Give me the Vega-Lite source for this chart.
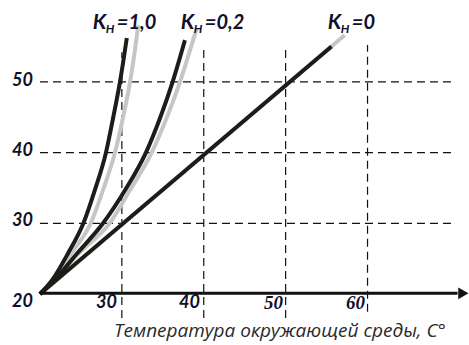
{
  "$schema": "https://vega.github.io/schema/vega-lite/v6.json",
  "width": 469,
  "height": 345,
  "padding": 0,
  "autosize": {"type": "none"},
  "background": "white",
  "config": {"view": {"stroke": null}},
  "datasets": {
    "curves": [
      {"curve": "1,0", "kind": "black", "x": 20, "y": 20},
      {"curve": "1,0", "kind": "black", "x": 21.5, "y": 22},
      {"curve": "1,0", "kind": "black", "x": 23.4, "y": 25.7},
      {"curve": "1,0", "kind": "black", "x": 25.3, "y": 30},
      {"curve": "1,0", "kind": "black", "x": 26.7, "y": 34.7},
      {"curve": "1,0", "kind": "black", "x": 28.06, "y": 40},
      {"curve": "1,0", "kind": "black", "x": 28.95, "y": 45},
      {"curve": "1,0", "kind": "black", "x": 29.77, "y": 50},
      {"curve": "1,0", "kind": "black", "x": 30.6, "y": 56.2},
      {"curve": "1,0", "kind": "grey", "x": 20, "y": 20},
      {"curve": "1,0", "kind": "grey", "x": 21.6, "y": 22},
      {"curve": "1,0", "kind": "grey", "x": 23.8, "y": 25.7},
      {"curve": "1,0", "kind": "grey", "x": 26.2, "y": 30},
      {"curve": "1,0", "kind": "grey", "x": 27.7, "y": 34.7},
      {"curve": "1,0", "kind": "grey", "x": 29.16, "y": 40},
      {"curve": "1,0", "kind": "grey", "x": 30.15, "y": 45},
      {"curve": "1,0", "kind": "grey", "x": 31.0, "y": 50},
      {"curve": "1,0", "kind": "grey", "x": 31.6, "y": 54.5},
      {"curve": "1,0", "kind": "grey", "x": 32.0, "y": 58.0},
      {"curve": "0,2", "kind": "black", "x": 20, "y": 20},
      {"curve": "0,2", "kind": "black", "x": 21.8, "y": 22},
      {"curve": "0,2", "kind": "black", "x": 24.5, "y": 25.7},
      {"curve": "0,2", "kind": "black", "x": 27.7, "y": 30},
      {"curve": "0,2", "kind": "black", "x": 30.4, "y": 34.7},
      {"curve": "0,2", "kind": "black", "x": 32.94, "y": 40},
      {"curve": "0,2", "kind": "black", "x": 34.7, "y": 45},
      {"curve": "0,2", "kind": "black", "x": 36.2, "y": 50},
      {"curve": "0,2", "kind": "black", "x": 37.7, "y": 55.9},
      {"curve": "0,2", "kind": "grey", "x": 20, "y": 20},
      {"curve": "0,2", "kind": "grey", "x": 21.8, "y": 22},
      {"curve": "0,2", "kind": "grey", "x": 24.7, "y": 25.7},
      {"curve": "0,2", "kind": "grey", "x": 28.5, "y": 30},
      {"curve": "0,2", "kind": "grey", "x": 31.0, "y": 34.7},
      {"curve": "0,2", "kind": "grey", "x": 33.64, "y": 40},
      {"curve": "0,2", "kind": "grey", "x": 35.5, "y": 45},
      {"curve": "0,2", "kind": "grey", "x": 37.1, "y": 50},
      {"curve": "0,2", "kind": "grey", "x": 38.7, "y": 55.9},
      {"curve": "0,2", "kind": "grey", "x": 39.15, "y": 57.6},
      {"curve": "0", "kind": "black", "x": 20, "y": 20},
      {"curve": "0", "kind": "black", "x": 55.6, "y": 55.0},
      {"curve": "0", "kind": "grey", "x": 20, "y": 20},
      {"curve": "0", "kind": "grey", "x": 57.2, "y": 56.6}
    ],
    "hgrid": [
      {"y": 30, "x": 20, "x2": 70.4},
      {"y": 40, "x": 20, "x2": 70.4},
      {"y": 50, "x": 20, "x2": 70.4}
    ],
    "vgrid": [
      {"x": 30, "y": 16.6, "y2": 54.2},
      {"x": 40, "y": 16.6, "y2": 55.2},
      {"x": 50, "y": 16.6, "y2": 54.5},
      {"x": 60, "y": 17.5, "y2": 55.2}
    ],
    "axisline": [{"x": 20, "x2": 71.0, "y": 20.1}],
    "arrow": [{"x": 71.7, "y": 20.1}],
    "klabels": [
      {"x": 26.45, "y": 57.48, "eq": "=1,0"},
      {"x": 37.2, "y": 57.48, "eq": "=0,2"},
      {"x": 55.15, "y": 57.48, "eq": "=0"}
    ],
    "ticklabels": [
      {"g": "sans", "x": 19.15, "y": 50.19, "t": "50"},
      {"g": "sans", "x": 19.15, "y": 40.22, "t": "40"},
      {"g": "sans", "x": 19.15, "y": 30.32, "t": "30"},
      {"g": "sans", "x": 19.15, "y": 18.86, "t": "20"},
      {"g": "sans", "x": 29.4, "y": 18.79, "t": "30"},
      {"g": "sans", "x": 39.54, "y": 18.79, "t": "40"},
      {"g": "serif", "x": 49.67, "y": 18.79, "t": "50"},
      {"g": "serif", "x": 59.69, "y": 18.79, "t": "60"}
    ],
    "title": [{"x": 49.3, "y": 13.91, "t": "Температура окружающей среды, С°"}]
  },
  "layer": [
    {
      "data": {"name": "hgrid"},
      "mark": {"type": "rule", "color": "#111111", "strokeWidth": 1.2, "strokeDash": [8, 5]},
      "encoding": {
        "x": {"field": "x", "type": "quantitative", "scale": {"domain": [15.12, 72.39], "nice": false, "zero": false}, "axis": null},
        "x2": {"field": "x2"},
        "y": {"field": "y", "type": "quantitative", "scale": {"domain": [12.79, 61.58], "nice": false, "zero": false}, "axis": null}
      }
    },
    {
      "data": {"name": "vgrid"},
      "mark": {"type": "rule", "color": "#111111", "strokeWidth": 1.2, "strokeDash": [8, 5]},
      "encoding": {
        "x": {"field": "x", "type": "quantitative", "scale": {"domain": [15.12, 72.39], "nice": false, "zero": false}, "axis": null},
        "y": {"field": "y", "type": "quantitative", "scale": {"domain": [12.79, 61.58], "nice": false, "zero": false}, "axis": null},
        "y2": {"field": "y2"}
      }
    },
    {
      "data": {"name": "curves"},
      "transform": [{"filter": "datum.kind === 'grey'"}],
      "mark": {"type": "line", "color": "#c6c6c6", "strokeWidth": 4, "interpolate": "monotone"},
      "encoding": {
        "x": {"field": "x", "type": "quantitative", "scale": {"domain": [15.12, 72.39], "nice": false, "zero": false}, "axis": null},
        "y": {"field": "y", "type": "quantitative", "scale": {"domain": [12.79, 61.58], "nice": false, "zero": false}, "axis": null},
        "detail": {"field": "curve"}
      }
    },
    {
      "data": {"name": "curves"},
      "transform": [{"filter": "datum.kind === 'black'"}],
      "mark": {"type": "line", "color": "#1c1c18", "strokeWidth": 4, "interpolate": "monotone"},
      "encoding": {
        "x": {"field": "x", "type": "quantitative", "scale": {"domain": [15.12, 72.39], "nice": false, "zero": false}, "axis": null},
        "y": {"field": "y", "type": "quantitative", "scale": {"domain": [12.79, 61.58], "nice": false, "zero": false}, "axis": null},
        "detail": {"field": "curve"}
      }
    },
    {
      "data": {"name": "axisline"},
      "mark": {"type": "rule", "color": "#111111", "strokeWidth": 3},
      "encoding": {
        "x": {"field": "x", "type": "quantitative", "scale": {"domain": [15.12, 72.39], "nice": false, "zero": false}, "axis": null},
        "x2": {"field": "x2"},
        "y": {"field": "y", "type": "quantitative", "scale": {"domain": [12.79, 61.58], "nice": false, "zero": false}, "axis": null}
      }
    },
    {
      "data": {"name": "arrow"},
      "mark": {"type": "point", "shape": "triangle-right", "filled": true, "color": "#111111", "size": 140, "opacity": 1},
      "encoding": {
        "x": {"field": "x", "type": "quantitative", "scale": {"domain": [15.12, 72.39], "nice": false, "zero": false}, "axis": null},
        "y": {"field": "y", "type": "quantitative", "scale": {"domain": [12.79, 61.58], "nice": false, "zero": false}, "axis": null}
      }
    },
    {
      "data": {"name": "klabels"},
      "mark": {"type": "text", "text": "K", "align": "left", "baseline": "alphabetic", "font": "Lato", "fontSize": 21, "fontWeight": "bold", "fontStyle": "italic", "color": "#10102a"},
      "encoding": {
        "x": {"field": "x", "type": "quantitative", "scale": {"domain": [15.12, 72.39], "nice": false, "zero": false}, "axis": null},
        "y": {"field": "y", "type": "quantitative", "scale": {"domain": [12.79, 61.58], "nice": false, "zero": false}, "axis": null}
      }
    },
    {
      "data": {"name": "klabels"},
      "mark": {"type": "text", "text": "Н", "align": "left", "baseline": "alphabetic", "dx": 13, "dy": 4, "font": "Lato", "fontSize": 12, "fontWeight": "bold", "fontStyle": "italic", "color": "#10102a"},
      "encoding": {
        "x": {"field": "x", "type": "quantitative", "scale": {"domain": [15.12, 72.39], "nice": false, "zero": false}, "axis": null},
        "y": {"field": "y", "type": "quantitative", "scale": {"domain": [12.79, 61.58], "nice": false, "zero": false}, "axis": null}
      }
    },
    {
      "data": {"name": "klabels"},
      "mark": {"type": "text", "align": "left", "baseline": "alphabetic", "dx": 24, "font": "Lato", "fontSize": 20, "fontWeight": "bold", "fontStyle": "italic", "color": "#10102a"},
      "encoding": {
        "x": {"field": "x", "type": "quantitative", "scale": {"domain": [15.12, 72.39], "nice": false, "zero": false}, "axis": null},
        "y": {"field": "y", "type": "quantitative", "scale": {"domain": [12.79, 61.58], "nice": false, "zero": false}, "axis": null},
        "text": {"field": "eq"}
      }
    },
    {
      "data": {"name": "ticklabels"},
      "transform": [{"filter": "datum.g === 'sans'"}],
      "mark": {"type": "text", "align": "right", "baseline": "middle", "font": "Lato", "fontSize": 18, "fontWeight": "bold", "fontStyle": "italic", "color": "#10102a"},
      "encoding": {
        "x": {"field": "x", "type": "quantitative", "scale": {"domain": [15.12, 72.39], "nice": false, "zero": false}, "axis": null},
        "y": {"field": "y", "type": "quantitative", "scale": {"domain": [12.79, 61.58], "nice": false, "zero": false}, "axis": null},
        "text": {"field": "t"}
      }
    },
    {
      "data": {"name": "ticklabels"},
      "transform": [{"filter": "datum.g === 'serif'"}],
      "mark": {"type": "text", "align": "right", "baseline": "middle", "font": "Liberation Serif", "fontSize": 19, "fontWeight": "bold", "fontStyle": "italic", "color": "#10102a"},
      "encoding": {
        "x": {"field": "x", "type": "quantitative", "scale": {"domain": [15.12, 72.39], "nice": false, "zero": false}, "axis": null},
        "y": {"field": "y", "type": "quantitative", "scale": {"domain": [12.79, 61.58], "nice": false, "zero": false}, "axis": null},
        "text": {"field": "t"}
      }
    },
    {
      "data": {"name": "title"},
      "mark": {"type": "text", "align": "center", "baseline": "alphabetic", "font": "Open Sans", "fontSize": 19, "fontStyle": "italic", "color": "#2a2a2a"},
      "encoding": {
        "x": {"field": "x", "type": "quantitative", "scale": {"domain": [15.12, 72.39], "nice": false, "zero": false}, "axis": null},
        "y": {"field": "y", "type": "quantitative", "scale": {"domain": [12.79, 61.58], "nice": false, "zero": false}, "axis": null},
        "text": {"field": "t"}
      }
    }
  ]
}
